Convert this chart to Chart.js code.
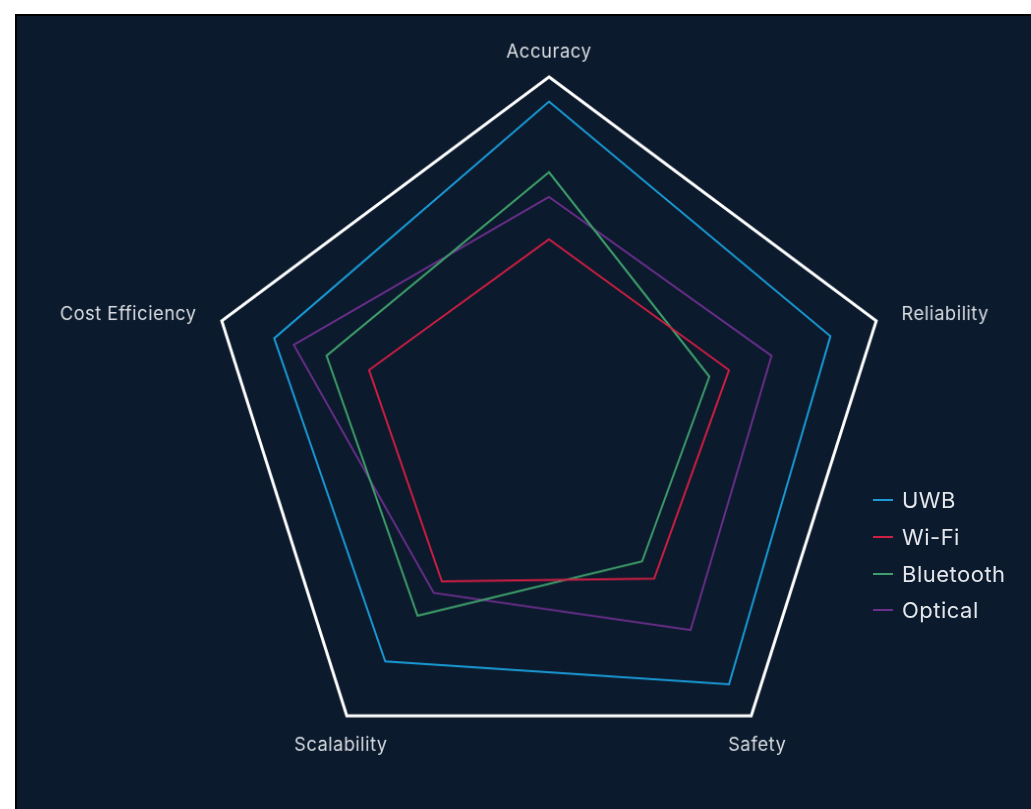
<!DOCTYPE html>
<html>
<head>
  <title>Positioning Technology Comparison</title>
  <script src="https://cdn.jsdelivr.net/npm/chart.js"></script>
  <style>
    body {
      margin: 0;
      background-color: #ffffff;
      font-family: Inter, "Open Sans", sans-serif;
      overflow: hidden;
    }

    .panel {
      position: absolute;
      left: 15px;
      top: 14px;
      width: 1016px;
      height: 795px;
      background-color: #0b1a2c;
      border-top: 2px solid #000;
      border-left: 2px solid #000;
      overflow: hidden;
    }

    /* the web is a touch taller than wide */
    canvas {
      width: 100% !important;
      height: 100% !important;
      transform-origin: 532px 414px;
      transform: scale(0.983, 1.009);
    }

    .legend {
      position: absolute;
      left: 856px;
      top: 466px;
      color: #e3e6ea;
      font-size: 22px;
      letter-spacing: 0.5px;
    }

    .legend-item {
      display: flex;
      align-items: center;
      height: 36.7px;
    }

    .legend-line {
      width: 20px;
      height: 2px;
      margin-right: 9px;
    }
  </style>
</head>
<body>
<div class="panel">
  <canvas id="radarChart"></canvas>
  <div class="legend" id="legend"></div>
</div>

<script>
  const criteria = ['Accuracy', 'Reliability', 'Safety', 'Scalability', 'Cost Efficiency'];

  const uwbScores = [93, 86, 89, 81, 84];
  const wifiScores = [54, 55, 52, 53, 55];
  const bluetoothScores = [73, 49, 46, 65, 68];
  const opticalScores = [66, 68, 70, 57, 78];

  const seriesNames = ['UWB', 'Wi-Fi', 'Bluetooth', 'Optical'];
  const seriesColors = ['#1b9ad6', '#cf1f45', '#3f9e6b', '#6b2f8c'];

  const datasets = [uwbScores, wifiScores, bluetoothScores, opticalScores].map((scores, i) => ({
    label: seriesNames[i],
    data: scores,
    borderColor: seriesColors[i],
    backgroundColor: 'transparent',
    borderWidth: 2,
    pointRadius: 0,
    fill: false
  }));

  // axis names sit just outside the outer ring: centred above/below, side ones aligned outward
  const axisNames = {
    id: 'axisNames',
    afterDraw(chart) {
      const scale = chart.scales.r;
      const ctx = chart.ctx;
      const R = scale.drawingArea;
      ctx.save();
      ctx.fillStyle = '#d9dde2';
      ctx.font = '18.5px Inter';
      ctx.letterSpacing = '0.5px';
      chart.data.labels.forEach((name, i) => {
        const v = scale.getPointPosition(i, R);
        let x, y;
        if (v.y > scale.yCenter + R * 0.5) {
          ctx.textAlign = 'center';
          x = v.x + (v.x < scale.xCenter ? -6 : 6);
          y = v.y + 29;
        } else if (Math.abs(v.x - scale.xCenter) < 1) {
          const p = scale.getPointPosition(i, R + 25);
          ctx.textAlign = 'center';
          x = p.x;
          y = p.y;
        } else {
          const p = scale.getPointPosition(i, R + 27);
          ctx.textAlign = v.x < scale.xCenter ? 'right' : 'left';
          x = p.x;
          y = p.y + 2;
        }
        ctx.textBaseline = 'middle';
        ctx.fillText(name, x, y);
      });
      ctx.restore();
    }
  };

  const radarChart = new Chart(document.getElementById('radarChart').getContext('2d'), {
    type: 'radar',
    data: { labels: criteria, datasets: datasets },
    plugins: [axisNames],
    options: {
      responsive: true,
      maintainAspectRatio: false,
      animation: false,
      layout: {
        padding: { top: 64, bottom: 31, left: 132, right: 83 }
      },
      elements: {
        line: { tension: 0 }
      },
      plugins: {
        legend: { display: false },
        tooltip: { enabled: false }
      },
      scales: {
        r: {
          min: 0,
          max: 100,
          ticks: { display: false, stepSize: 100 },
          angleLines: { display: false },
          grid: { color: '#ffffff', lineWidth: 3 },
          pointLabels: { display: false }
        }
      }
    }
  });

  // legend built from the chart's own datasets
  const legend = document.getElementById('legend');
  radarChart.data.datasets.forEach(ds => {
    const item = document.createElement('div');
    item.className = 'legend-item';
    const line = document.createElement('span');
    line.className = 'legend-line';
    line.style.backgroundColor = ds.borderColor;
    const text = document.createElement('span');
    text.textContent = ds.label;
    item.appendChild(line);
    item.appendChild(text);
    legend.appendChild(item);
  });
</script>
</body>
</html>
